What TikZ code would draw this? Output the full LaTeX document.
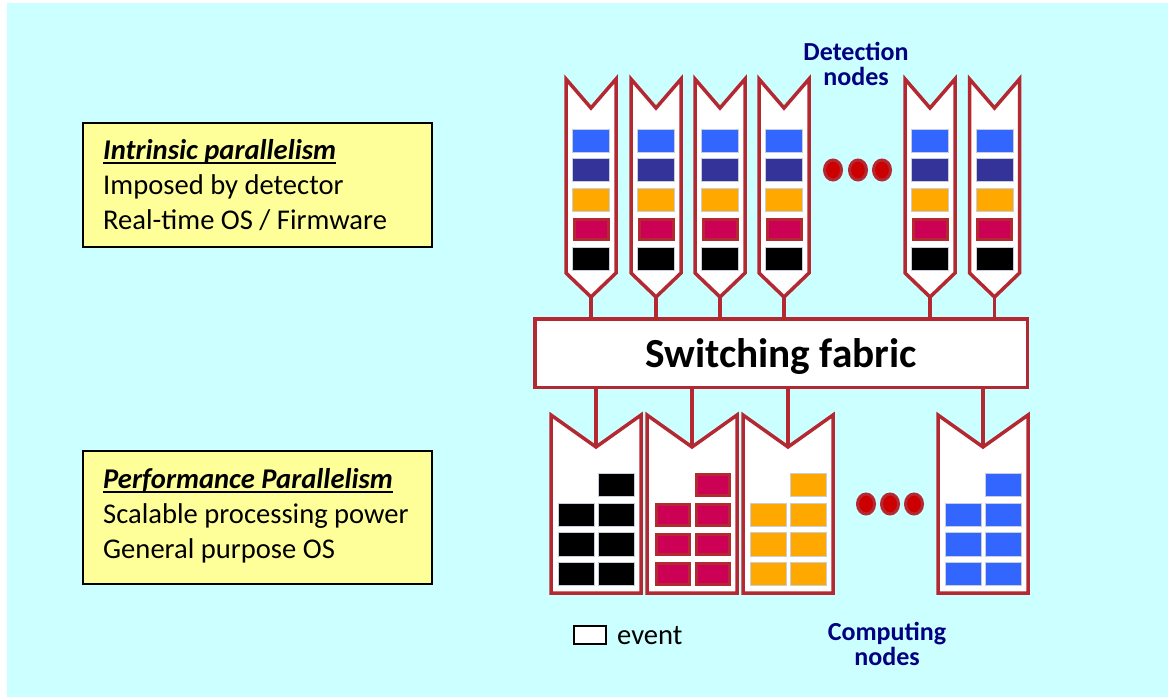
\documentclass[tikz,border=0pt]{standalone}
\usepackage{fontspec}
\setmainfont{Carlito}
\usetikzlibrary{calc}
\definecolor{bgcyan}{RGB}{204,255,255}
\definecolor{notey}{RGB}{255,255,153}
\definecolor{framered}{RGB}{180,40,50}
\definecolor{evblue}{RGB}{51,102,255}
\definecolor{evpurple}{RGB}{51,51,153}
\definecolor{evorange}{RGB}{255,168,0}
\definecolor{evcrimson}{RGB}{204,0,85}
\definecolor{evedge}{RGB}{200,205,220}
\definecolor{navy}{RGB}{0,0,128}
\definecolor{dotred}{RGB}{204,0,0}
\begin{document}
\begin{tikzpicture}[x=1pt,y=-1pt,
  frame/.style={draw=framered,line width=3.5pt,line join=miter,fill=white},
  link/.style={draw=framered,line width=3.5pt},
  evbox/.style={draw=evedge,line width=0.8pt},
  crbox/.style={draw=framered,line width=3pt,fill=evcrimson},
  note/.style={draw=black,line width=1.6pt,fill=notey},
  txt/.style={anchor=base west,inner sep=0pt,font=\fontsize{28.6}{34}\selectfont},
  lbl/.style={anchor=base,inner sep=0pt,text=navy,font=\fontsize{26}{30}\selectfont\bfseries},
  fabric/.style={draw=framered,line width=3.5pt,fill=white,inner sep=0pt,
    minimum width=492.5pt,minimum height=68.5pt,text height=28pt,text depth=0pt,
    font=\fontsize{41.3}{48}\selectfont\bfseries},
  more/.style={draw=framered,line width=3pt,fill=dotred}]
\useasboundingbox (0,0) rectangle (1169,699);
\fill[bgcyan] (7,3) rectangle (1168,697);

% explanatory notes on the left
\draw[note] (83,123) rectangle (432,247);
\node[txt,font=\fontsize{28.6}{34}\selectfont\bfseries\itshape] (h1) at (103,159) {Intrinsic parallelism};
\draw[line width=1.8pt] ([yshift=-4pt]h1.base west) -- ([yshift=-4pt]h1.base east);
\node[txt] (l1a) at (103,194) {Imposed by detector};
\node[txt] (l1b) at (103,229) {Real-time OS / Firmware};

\draw[note] (83,451) rectangle (432,584);
\node[txt,font=\fontsize{28.6}{34}\selectfont\bfseries\itshape] (h2) at (103,488) {Performance Parallelism};
\draw[line width=1.8pt] ([yshift=-4pt]h2.base west) -- ([yshift=-4pt]h2.base east);
\node[txt] (l2a) at (103,523) {Scalable processing power};
\node[txt] (l2b) at (103,558) {General purpose OS};

% switching fabric
\node[fabric] (fab) at (781,353) {Switching fabric};

% detection nodes, each holding one fragment of every event
\foreach \c [count=\i] in {591,656,720,784,930,994.5}{
  \draw[frame] (\c-25,79) -- (\c,108) -- (\c+25,79) -- (\c+25,273) -- (\c,297) -- (\c-25,273) -- cycle;
  \coordinate (d\i) at (\c,297);
  \draw[evbox,fill=evblue]   (\c-18.5,129) rectangle ++(37,23);
  \draw[evbox,fill=evpurple] (\c-18.5,158.5) rectangle ++(37,23);
  \draw[evbox,fill=evorange] (\c-18.5,188) rectangle ++(37,23);
  \draw[crbox]               (\c-17,219) rectangle ++(34,20);
  \draw[evbox,fill=black]    (\c-18.5,247.5) rectangle ++(37,23);
}
\foreach \i in {1,...,6}{
  \draw[link] (d\i) -- (d\i |- fab.north);
}
\foreach \x in {833,858,882}{
  \draw[more] (\x,170) ellipse [x radius=8.5, y radius=10];
}
\node[lbl] (detA) at (856,60) {Detection};
\node[lbl] (detB) at (856,85) {nodes};

% computing nodes, each holding whole events
\foreach \l/\col [count=\i] in {551/black,647/evcrimson,743/evorange,938/evblue}{
  \draw[frame] (\l,415) -- (\l+45,447) -- (\l+90,415) -- (\l+90,593) -- (\l,593) -- cycle;
  \coordinate (c\i) at (\l+45,447);
}
\foreach \i in {1,...,4}{
  \draw[link] (fab.south -| c\i) -- (c\i);
}
% events inside the computing nodes
\foreach \l/\col in {551/black,743/evorange,938/evblue}{
  \draw[evbox,fill=\col] (\l+47.5,473) rectangle ++(36,23.5);
  \foreach \y in {503,532.5,562}{
    \draw[evbox,fill=\col] (\l+7.5,\y) rectangle ++(36,23.5);
    \draw[evbox,fill=\col] (\l+47.5,\y) rectangle ++(36,23.5);
  }
}
\draw[crbox] (647+49,474.5) rectangle ++(33,20.5);
\foreach \y in {503,532.5,562}{
  \draw[crbox] (647+9,\y+1.5) rectangle ++(33,20.5);
  \draw[crbox] (647+49,\y+1.5) rectangle ++(33,20.5);
}
\foreach \x in {866,890,914}{
  \draw[more] (\x,504) ellipse [x radius=8.5, y radius=10];
}
\node[lbl] (compA) at (887,640) {Computing};
\node[lbl] (compB) at (887,665) {nodes};

% legend
\draw[black,line width=1.5pt,fill=white] (574,626) rectangle (606,644);
\node[txt] (evlbl) at (617,644) {event};
\end{tikzpicture}
\end{document}
